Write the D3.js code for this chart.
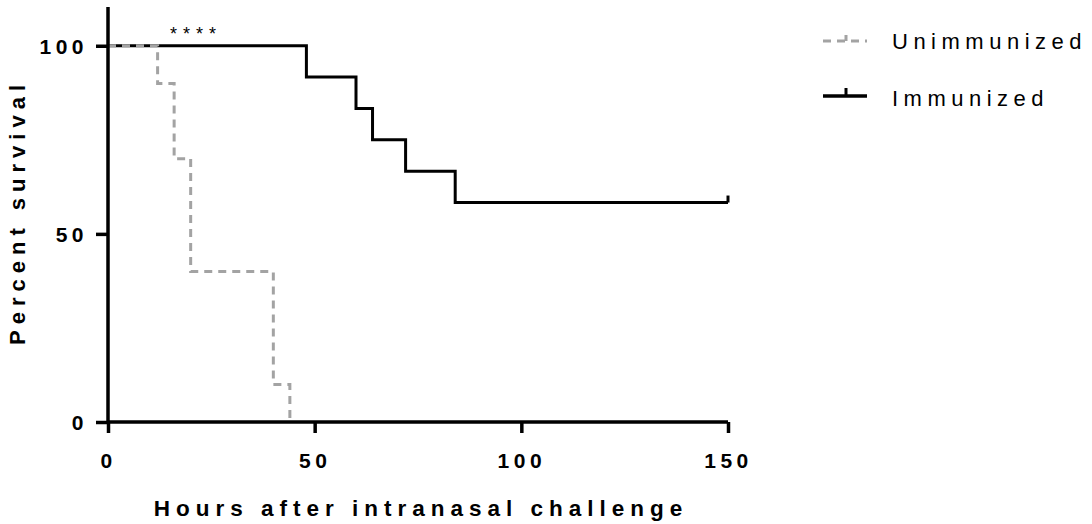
<!DOCTYPE html>
<html>
<head>
<meta charset="utf-8">
<script src="https://cdn.jsdelivr.net/npm/d3@7"></script>
<style>
  body { margin: 0; background: #fff; }
  text { font-family: "Liberation Sans", Arial, sans-serif; }
</style>
</head>
<body>
<svg width="1092" height="524"></svg>
<script>
// Kaplan-Meier steps: time (hours) and percent survival after that time
const unimmTimes = [0, 12, 16, 20, 40, 44];
const unimmSurv = [100, 90, 70, 40, 10, 0];
const immTimes = [0, 48, 60, 64, 72, 84];
const immSurv = [100, 91.67, 83.33, 75, 66.67, 58.33];
const endTime = 150;
const xTicks = [0, 50, 100, 150];
const yTicks = [0, 50, 100];

const svg = d3.select("svg");

const x = d3.scaleLinear().domain([0, 150]).range([108, 728]),
    y = d3.scaleLinear().domain([0, 110.3]).range([422, 7]);

// step path builder
const stepLine = d3.line().x(d => x(d[0])).y(d => y(d[1])).curve(d3.curveStepAfter);

const unimmPts = unimmTimes.map((t, i) => [t, unimmSurv[i]]);
const immPts = immTimes.map((t, i) => [t, immSurv[i]]).concat([[endTime, immSurv[immSurv.length - 1]]]);

// Immunized (solid black)
svg.append("path")
    .attr("d", stepLine(immPts))
    .attr("fill", "none")
    .attr("stroke", "#000")
    .attr("stroke-width", 3);

// censor mark at the end
svg.append("line")
    .attr("x1", x(endTime)).attr("x2", x(endTime))
    .attr("y1", y(58.33)).attr("y2", y(58.33) - 7)
    .attr("stroke", "#000").attr("stroke-width", 3);

// Unimmunized (dashed grey)
svg.append("path")
    .attr("d", stepLine(unimmPts))
    .attr("fill", "none")
    .attr("stroke", "#a3a3a3")
    .attr("stroke-width", 3)
    .attr("stroke-dasharray", "8,6");

// Axes
const xAxis = svg.append("g")
    .attr("transform", `translate(0,${y(0)})`)
    .call(d3.axisBottom(x).tickValues(xTicks).tickSize(11).tickPadding(20).tickFormat(d3.format("d")));
const yAxis = svg.append("g")
    .attr("transform", `translate(${x(0)},0)`)
    .call(d3.axisLeft(y).tickValues(yTicks).tickSize(12).tickPadding(8).tickFormat(d3.format("d")));

[xAxis, yAxis].forEach(a => {
    a.select(".domain").attr("stroke", "#000").attr("stroke-width", 3.5);
    a.selectAll(".tick line").attr("stroke", "#000").attr("stroke-width", 3.5);
    a.selectAll("text")
        .attr("fill", "#000")
        .style("font-family", "'Liberation Sans', Arial, sans-serif")
        .style("font-size", "21px")
        .style("font-weight", "bold")
        .style("letter-spacing", "4.5px");
});
xAxis.select(".domain").attr("d", `M${x(0)},0H${x(150)}`);
yAxis.select(".domain").attr("d", `M0,${y(0)}V${y(110.3)}`);
yAxis.selectAll("text").attr("dy", "0.36em");

// Axis titles
svg.append("text")
    .attr("x", 421).attr("y", 516)
    .attr("text-anchor", "middle")
    .style("font-size", "22.5px").style("font-weight", "bold").style("letter-spacing", "6px")
    .text("Hours after intranasal challenge");

svg.append("text")
    .attr("transform", `translate(25,212) rotate(-90)`)
    .attr("text-anchor", "middle")
    .style("font-size", "22px").style("font-weight", "bold").style("letter-spacing", "6px")
    .text("Percent survival");

// significance stars
svg.append("text")
    .attr("x", 196).attr("y", 40)
    .attr("text-anchor", "middle")
    .style("font-size", "18px").style("letter-spacing", "6px")
    .text("****");

// Legend
const legend = svg.append("g");
legend.append("line")
    .attr("x1", 823).attr("x2", 867).attr("y1", 41).attr("y2", 41)
    .attr("stroke", "#a3a3a3").attr("stroke-width", 3).attr("stroke-dasharray", "8,6");
legend.append("line")
    .attr("x1", 846).attr("x2", 846).attr("y1", 41).attr("y2", 35)
    .attr("stroke", "#a3a3a3").attr("stroke-width", 3);
legend.append("text")
    .attr("x", 892).attr("y", 49)
    .style("font-size", "22px").style("letter-spacing", "5.5px")
    .text("Unimmunized");

legend.append("line")
    .attr("x1", 823).attr("x2", 867).attr("y1", 96).attr("y2", 96)
    .attr("stroke", "#000").attr("stroke-width", 3.5);
legend.append("line")
    .attr("x1", 846).attr("x2", 846).attr("y1", 96).attr("y2", 88)
    .attr("stroke", "#000").attr("stroke-width", 3);
legend.append("text")
    .attr("x", 892).attr("y", 106)
    .style("font-size", "22px").style("letter-spacing", "5.5px")
    .text("Immunized");
</script>
</body>
</html>
